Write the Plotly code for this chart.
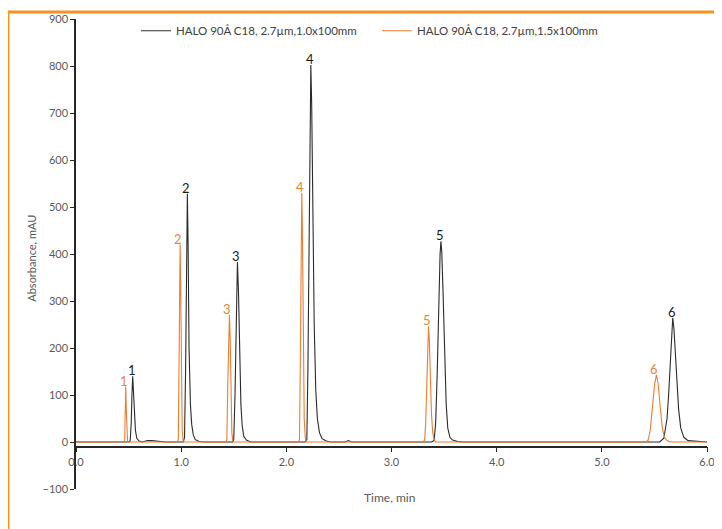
import plotly.graph_objects as go

# ---- data ----
series_names = ["HALO 90Å C18, 2.7µm,1.0x100mm", "HALO 90Å C18, 2.7µm,1.5x100mm"]

black_time = [0.00, 0.50, 0.515, 0.525, 0.532, 0.539, 0.546, 0.555, 0.565, 0.578, 0.60, 0.63, 0.68, 0.72, 0.76, 0.80, 0.85,
              1.02, 1.032, 1.042, 1.050, 1.059, 1.066, 1.075, 1.088, 1.10, 1.115, 1.135, 1.17, 1.22,
              1.49, 1.500, 1.512, 1.522, 1.535, 1.545, 1.556, 1.568, 1.58, 1.595, 1.62, 1.66,
              2.18, 2.195, 2.205, 2.215, 2.225, 2.233, 2.241, 2.252, 2.265, 2.28, 2.295, 2.315, 2.34, 2.38, 2.42,
              2.56, 2.59, 2.62,
              3.38, 3.405, 3.42, 3.435, 3.45, 3.462, 3.470, 3.478, 3.49, 3.505, 3.52, 3.535, 3.555, 3.58, 3.63, 3.68,
              5.55, 5.59, 5.62, 5.635, 5.65, 5.664, 5.674, 5.686, 5.70, 5.715, 5.73, 5.75, 5.78, 5.82, 5.90, 6.00]
black_abs = [0, 0, 2, 40, 100, 140, 110, 60, 25, 8, 2, 0, 3, 3, 2, 1, 0,
             0, 10, 150, 380, 528, 420, 200, 80, 38, 15, 5, 1, 0,
             0, 5, 100, 260, 383, 320, 180, 80, 35, 12, 4, 0,
             0, 5, 150, 450, 720, 802, 720, 480, 250, 110, 50, 20, 7, 2, 0,
             0, 3, 0,
             0, 3, 40, 150, 310, 400, 427, 405, 320, 180, 80, 30, 10, 4, 1, 0,
             0, 8, 50, 100, 175, 240, 264, 240, 180, 120, 70, 30, 10, 3, 1, 0]

orange_time = [0.00, 0.455, 0.463, 0.468, 0.473, 0.478, 0.483, 0.49, 0.50,
               0.965, 0.973, 0.980, 0.986, 0.990, 0.995, 1.002, 1.010, 1.018, 1.03,
               1.425, 1.434, 1.443, 1.452, 1.459, 1.466, 1.474, 1.482, 1.49, 1.50,
               2.115, 2.125, 2.133, 2.141, 2.147, 2.153, 2.162, 2.170, 2.18, 2.19,
               3.30, 3.315, 3.325, 3.335, 3.345, 3.352, 3.36, 3.37, 3.38, 3.392, 3.405, 3.42,
               5.42, 5.44, 5.46, 5.48, 5.50, 5.519, 5.535, 5.555, 5.575, 5.595, 5.62, 5.65, 6.00]
orange_abs = [0, 0, 3, 60, 118, 70, 20, 3, 0,
              0, 5, 150, 350, 420, 340, 140, 25, 3, 0,
              0, 4, 120, 240, 270, 220, 100, 20, 3, 0,
              0, 5, 170, 440, 530, 450, 200, 50, 8, 0,
              0, 4, 40, 120, 210, 246, 215, 130, 60, 20, 5, 0,
              0, 4, 25, 70, 120, 143, 125, 75, 30, 10, 3, 0, 0]

peak_labels = ["1", "2", "3", "4", "5", "6"]
black_peak_time = [0.539, 1.059, 1.535, 2.233, 3.470, 5.674]
black_peak_abs = [140, 528, 383, 802, 427, 264]
orange_peak_time = [0.473, 0.990, 1.459, 2.147, 3.352, 5.519]
orange_peak_abs = [118, 420, 270, 530, 246, 143]

x_ticks = [0, 1, 2, 3, 4, 5, 6]
y_ticks = [-100, 0, 100, 200, 300, 400, 500, 600, 700, 800, 900]

BLACK = "#2b2b2b"
ORANGE = "#ED7D31"
BORDER = "#F7941D"
TXT = "#595959"
FONT = "Lato"

fig = go.Figure()
fig.add_trace(go.Scatter(x=black_time, y=black_abs, mode="lines", name=series_names[0],
                         line=dict(color=BLACK, width=1.1)))
fig.add_trace(go.Scatter(x=orange_time, y=orange_abs, mode="lines", name=series_names[1],
                         line=dict(color=ORANGE, width=1.1)))

annotations = []
for lab, t, h in zip(peak_labels, black_peak_time, black_peak_abs):
    annotations.append(dict(x=t, y=h, text=lab, showarrow=False, xanchor="center", yanchor="bottom",
                            yshift=-4, xshift=-1, font=dict(family=FONT, size=13, color="#1a1a1a")))
for lab, t, h in zip(peak_labels, orange_peak_time, orange_peak_abs):
    annotations.append(dict(x=t, y=h, text=lab, showarrow=False, xanchor="center", yanchor="bottom",
                            yshift=-4, xshift=-2, font=dict(family=FONT, size=13, color="#E8843C")))

annotations.append(dict(xref="paper", yref="paper", x=-0.0697, y=0.49, text="Absorbance, mAU",
                        textangle=-90, showarrow=False, xanchor="center", yanchor="middle",
                        font=dict(family=FONT, size=11, color=TXT)))
annotations.append(dict(xref="paper", yref="paper", x=0.4976, y=-0.019, text="Time, min",
                        showarrow=False, xanchor="center", yanchor="middle",
                        font=dict(family=FONT, size=12, color=TXT)))

shapes = [
    dict(type="line", xref="paper", yref="paper", x0=-0.1078, x1=-0.1078, y0=-0.3, y1=1.0149,
         line=dict(color=BORDER, width=3)),
    dict(type="line", xref="paper", yref="paper", x0=-0.1078, x1=1.2, y0=1.0149, y1=1.0149,
         line=dict(color=BORDER, width=3)),
]

fig.update_layout(
    width=722, height=529,
    margin=dict(l=68, r=23, t=11, b=48, autoexpand=False),
    plot_bgcolor="white", paper_bgcolor="white",
    font=dict(family=FONT, size=11, color=TXT),
    annotations=annotations,
    shapes=shapes,
    legend=dict(orientation="h", x=0.095, y=0.975, xanchor="left", yanchor="middle",
                font=dict(family=FONT, size=11.5, color="#404040"), bgcolor="rgba(0,0,0,0)",
                itemwidth=30, entrywidth=196),
    xaxis=dict(range=[0, 6], tickvals=x_ticks, tickformat=".1f", anchor="free", position=0.09,
               ticks="outside", ticklen=5, tickcolor="#262626", showline=True, linecolor="#262626",
               linewidth=1.5, showgrid=False, zeroline=False, tickfont=dict(size=11, color=TXT)),
    yaxis=dict(range=[-100, 900], tickvals=y_ticks, ticks="outside", ticklen=4, tickcolor="#262626",
               showline=True, linecolor="#262626", linewidth=1.5, showgrid=False, zeroline=False,
               tickfont=dict(size=11, color=TXT)),
)

fig.write_html("out.html")
